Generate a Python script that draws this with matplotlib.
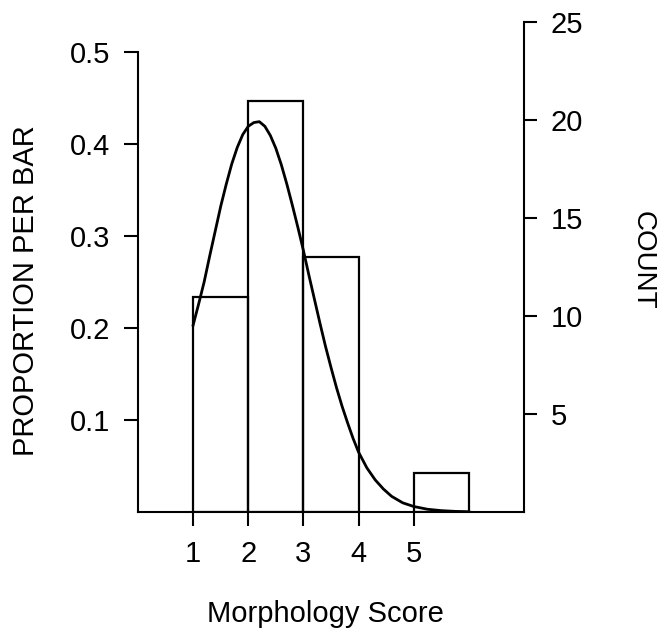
import matplotlib
matplotlib.use('Agg')
import matplotlib.pyplot as plt

# histogram of morphology scores
bin_left = [1, 2, 3, 5]
counts = [11, 21, 13, 2]

# fitted curve (proportion per bar)
curve_x = [1.0, 1.1, 1.2, 1.3, 1.4, 1.5, 1.6, 1.7, 1.8, 1.9, 2.0, 2.1, 2.2,
           2.3, 2.4, 2.5, 2.6, 2.7, 2.8, 2.9, 3.0, 3.1, 3.2, 3.3, 3.4, 3.5,
           3.6, 3.7, 3.8, 3.9, 4.0, 4.15, 4.3, 4.45, 4.6, 4.8, 5.0, 5.25,
           5.5, 5.75, 6.0]
curve_y = [0.203, 0.226, 0.250, 0.278, 0.305, 0.332, 0.356, 0.378, 0.396,
           0.410, 0.419, 0.423, 0.424, 0.419, 0.409, 0.395, 0.377, 0.356,
           0.333, 0.309, 0.284, 0.257, 0.231, 0.205, 0.180, 0.157, 0.135,
           0.115, 0.097, 0.080, 0.065, 0.048, 0.035, 0.025, 0.017, 0.010,
           0.006, 0.003, 0.0015, 0.0007, 0.0003]

xticks = [1, 2, 3, 4, 5]
prop_ticks = [0.1, 0.2, 0.3, 0.4, 0.5]
count_ticks = [5, 10, 15, 20, 25]

plt.rcParams['font.family'] = ['Liberation Sans', 'DejaVu Sans']

total = sum(counts)
props = [c / total for c in counts]
top = 25 / total
fs = 21

fig = plt.figure(figsize=(6.65, 6.34), dpi=100)
ax = fig.add_axes([0.2075, 0.1924, 0.5805, 0.7724])

ax.bar(bin_left, props, width=1, align='edge', fill=False,
       edgecolor='black', linewidth=1.6)
ax.plot(curve_x, curve_y, color='black', linewidth=2)

ax.set_xlim(0, 7)
ax.set_ylim(0, top)
ax.set_xticks(xticks)
ax.set_xticklabels([str(t) for t in xticks])
ax.set_yticks(prop_ticks)
ax.set_yticklabels(['%.1f' % t for t in prop_ticks])

for s in ['top', 'right']:
    ax.spines[s].set_visible(False)
ax.spines['left'].set_bounds(0, 0.5)
for s in ['left', 'bottom']:
    ax.spines[s].set_linewidth(1.5)

ax.tick_params(axis='both', direction='out', length=10, width=1.5,
               labelsize=fs, pad=10)

ax2 = ax.twinx()
ax2.set_ylim(0, top * total)
ax2.set_yticks(count_ticks)
for s in ['top', 'left', 'bottom']:
    ax2.spines[s].set_visible(False)
ax2.spines['right'].set_linewidth(1.5)
ax2.tick_params(axis='y', direction='out', length=9, width=1.5,
                labelsize=fs, pad=10)

ax.set_ylabel('PROPORTION PER BAR', fontsize=fs)
ax.yaxis.set_label_coords(-0.254, 0.453)
ax2.set_ylabel('COUNT', fontsize=fs - 1, rotation=270, va='center')
ax2.yaxis.set_label_coords(1.308, 0.514)

fig.text(0.4887, 1 - 622 / 634, 'Morphology Score', fontsize=fs,
         ha='center', va='baseline')

fig.savefig('out.png', dpi=100)
